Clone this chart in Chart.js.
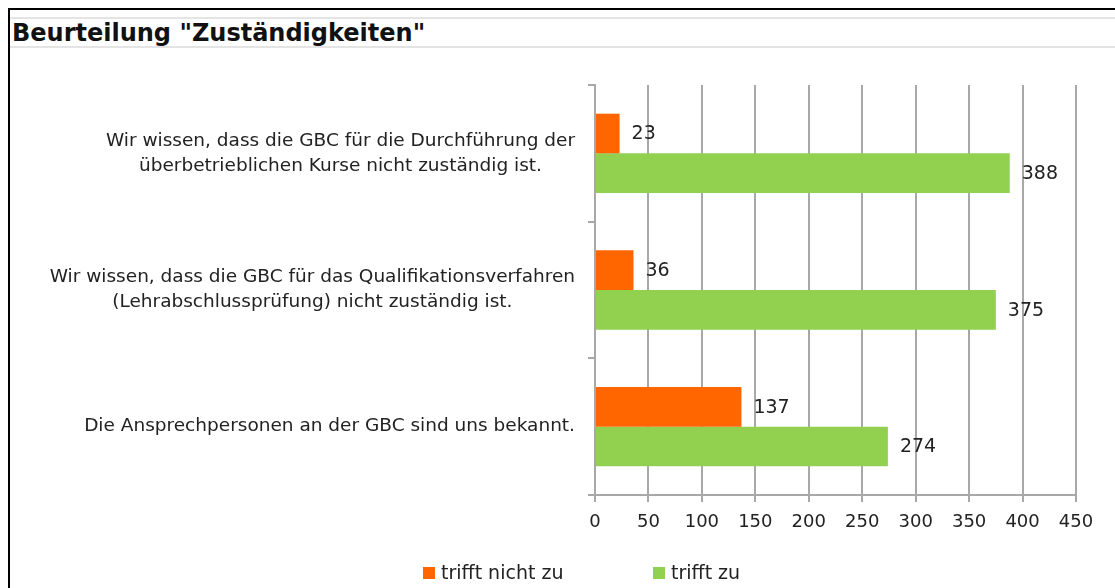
<!DOCTYPE html>
<html>
<head>
<meta charset="utf-8">
<script src="https://cdn.jsdelivr.net/npm/chart.js@4.4.1/dist/chart.umd.min.js"></script>
<style>
  html, body { margin: 0; padding: 0; background: #fff; }
  #wrap { position: relative; width: 1115px; height: 588px; overflow: hidden; font-family: "DejaVu Sans", Verdana, sans-serif; }
  #frame { position: absolute; left: 8px; top: 8px; width: 1120px; height: 600px; border-top: 2px solid #000; border-left: 2px solid #000; }
  .hl { position: absolute; left: 10px; width: 1110px; height: 2px; background: #e4e4e4; }
  #title { position: absolute; left: 12px; top: 19px; font-weight: bold; font-size: 24px; color: #111; white-space: nowrap; }
  canvas { position: absolute; left: 0; top: 0; }
  #legend { position: absolute; top: 561px; left: 0; width: 1115px; height: 26px; font-size: 19px; color: #222; }
  .li { position: absolute; top: 0; white-space: nowrap; }
  .sw { display: inline-block; width: 12px; height: 12px; margin-right: 6px; vertical-align: 0px; }
</style>
</head>
<body>
<div id="wrap">
  <div id="frame"></div>
  <div class="hl" style="top:17px"></div>
  <div class="hl" style="top:46px"></div>
  <div id="title">Beurteilung "Zuständigkeiten"</div>
  <canvas id="c" width="1115" height="588"></canvas>
  <div id="legend"></div>
</div>
<script>
const categories = [
  ["Wir wissen, dass die GBC für die Durchführung der", "überbetrieblichen Kurse nicht zuständig ist."],
  ["Wir wissen, dass die GBC für das Qualifikationsverfahren", "(Lehrabschlussprüfung) nicht zuständig ist."],
  ["Die Ansprechpersonen an der GBC sind uns bekannt."]
];
const seriesNames = ["trifft nicht zu", "trifft zu"];
const trifftNichtZu = [23, 36, 137];
const trifftZu = [388, 375, 274];
const xTicks = [0, 50, 100, 150, 200, 250, 300, 350, 400, 450];
const colors = ["#FF6600", "#92D050"];

const FONT = '"DejaVu Sans", Verdana, sans-serif';

const labelPlugin = {
  id: 'labels',
  afterDatasetsDraw(chart) {
    const ctx = chart.ctx;
    ctx.save();
    ctx.font = '19px ' + FONT;
    ctx.fillStyle = '#222';
    ctx.textAlign = 'left';
    ctx.textBaseline = 'middle';
    chart.data.datasets.forEach((ds, di) => {
      chart.getDatasetMeta(di).data.forEach((bar, i) => {
        ctx.fillText(String(ds.data[i]), bar.x + 12, bar.y + 1);
      });
    });
    // category labels: block right-aligned, lines centered within block
    const ys = chart.scales.y;
    ctx.font = '18.5px ' + FONT;
    ctx.textAlign = 'center';
    const rightEdge = ys.right - 20;
    const lh = 25;
    categories.forEach((lines, i) => {
      const y = ys.getPixelForTick(i);
      const w = Math.max(...lines.map(l => ctx.measureText(l).width));
      const cx = rightEdge - w / 2;
      const y0 = y - (lines.length - 1) * lh / 2;
      lines.forEach((l, k) => ctx.fillText(l, cx, y0 + k * lh));
    });
    ctx.restore();
  }
};

new Chart(document.getElementById('c'), {
  type: 'bar',
  data: {
    labels: categories,
    datasets: [
      { label: seriesNames[0], data: trifftNichtZu, backgroundColor: colors[0], categoryPercentage: 0.58, barPercentage: 1.0 },
      { label: seriesNames[1], data: trifftZu, backgroundColor: colors[1], categoryPercentage: 0.58, barPercentage: 1.0 }
    ]
  },
  options: {
    indexAxis: 'y',
    responsive: false,
    animation: false,
    layout: { padding: { top: 85, right: 39, left: 0, bottom: 0 } },
    plugins: { legend: { display: false }, tooltip: { enabled: false }, title: { display: false } },
    scales: {
      x: {
        min: 0, max: 450,
        afterBuildTicks(scale) { scale.ticks = xTicks.map(v => ({ value: v })); },
        afterFit(scale) { scale.height = 93; },
        grid: { color: '#a8a8a8', lineWidth: 2, tickLength: 7, drawTicks: true },
        border: { color: '#a8a8a8', width: 2 },
        ticks: { font: { family: FONT, size: 18 }, color: '#222', padding: 10, maxRotation: 0 }
      },
      y: {
        afterFit(scale) { scale.width = 595; },
        grid: { offset: true, drawOnChartArea: false, color: '#a8a8a8', lineWidth: 2, tickLength: 7 },
        border: { color: '#a8a8a8', width: 2 },
        ticks: { callback: () => '', font: { size: 1 } }
      }
    }
  },
  plugins: [labelPlugin]
});

// legend (HTML)
const legend = document.getElementById('legend');
const legendX = [423, 653];
seriesNames.forEach((n, i) => {
  const d = document.createElement('div');
  d.className = 'li';
  d.style.left = legendX[i] + 'px';
  const s = document.createElement('span');
  s.className = 'sw';
  s.style.background = colors[i];
  d.appendChild(s);
  d.appendChild(document.createTextNode(n));
  legend.appendChild(d);
});
</script>
</body>
</html>
